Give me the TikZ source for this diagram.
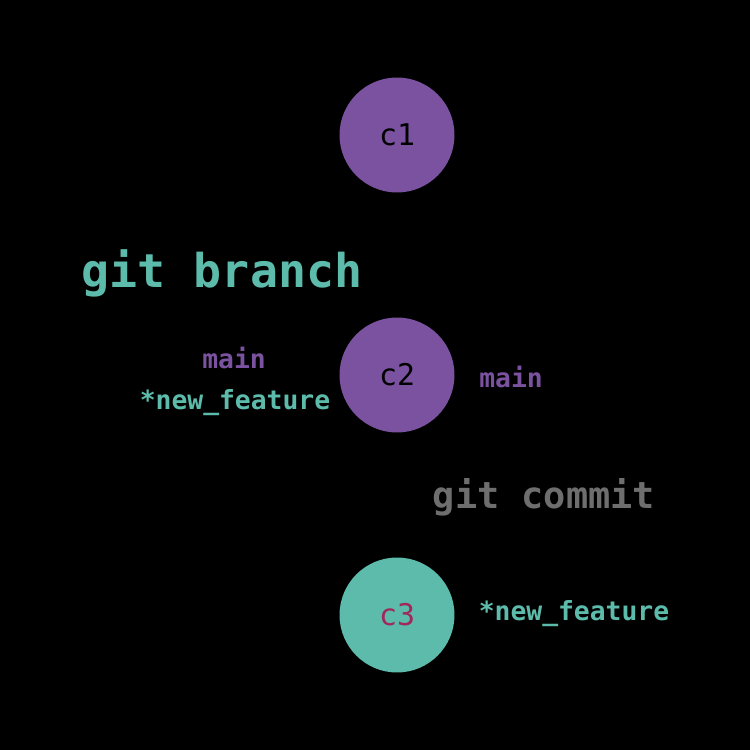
\documentclass[tikz,border=0pt]{standalone}
\usepackage{fontspec}
\setmonofont{DejaVu Sans Mono}
\definecolor{pur}{HTML}{7B52A0}
\definecolor{tea}{HTML}{5DBBAB}
\definecolor{crim}{HTML}{A0285A}
\definecolor{gry}{HTML}{6E6E6E}
\begin{document}
\begin{tikzpicture}[x=0.02cm,y=-0.02cm,
  commit/.style={circle,minimum size=2.3cm,inner sep=0pt,font=\ttfamily\fontsize{17}{20}\selectfont},
  lbl/.style={font=\ttfamily\bfseries\fontsize{15}{18}\selectfont,inner sep=0pt},
  cmd/.style={font=\ttfamily\bfseries,inner sep=0pt}]
\fill[black] (0,0) rectangle (750,750);
\node[commit,fill=pur,text=black] (c1) at (397,135) {c1};
\node[commit,fill=pur,text=black] (c2) at (397,375) {c2};
\node[commit,fill=tea,text=crim] (c3) at (397,615) {c3};
\node[cmd,text=tea,font=\ttfamily\bfseries\fontsize{26.5}{30}\selectfont] (gb) at (222,273) {git branch};
\node[cmd,text=gry,font=\ttfamily\bfseries\fontsize{21}{25}\selectfont] (gc) at (544,497) {git commit};
\node[lbl,text=pur] (m1) at (234,358) {main};
\node[lbl,text=tea] (nf1) at (235,403) {*new\_feature};
\node[lbl,text=pur] (m2) at (511,377) {main};
\node[lbl,text=tea] (nf2) at (574,614) {*new\_feature};
\end{tikzpicture}
\end{document}
